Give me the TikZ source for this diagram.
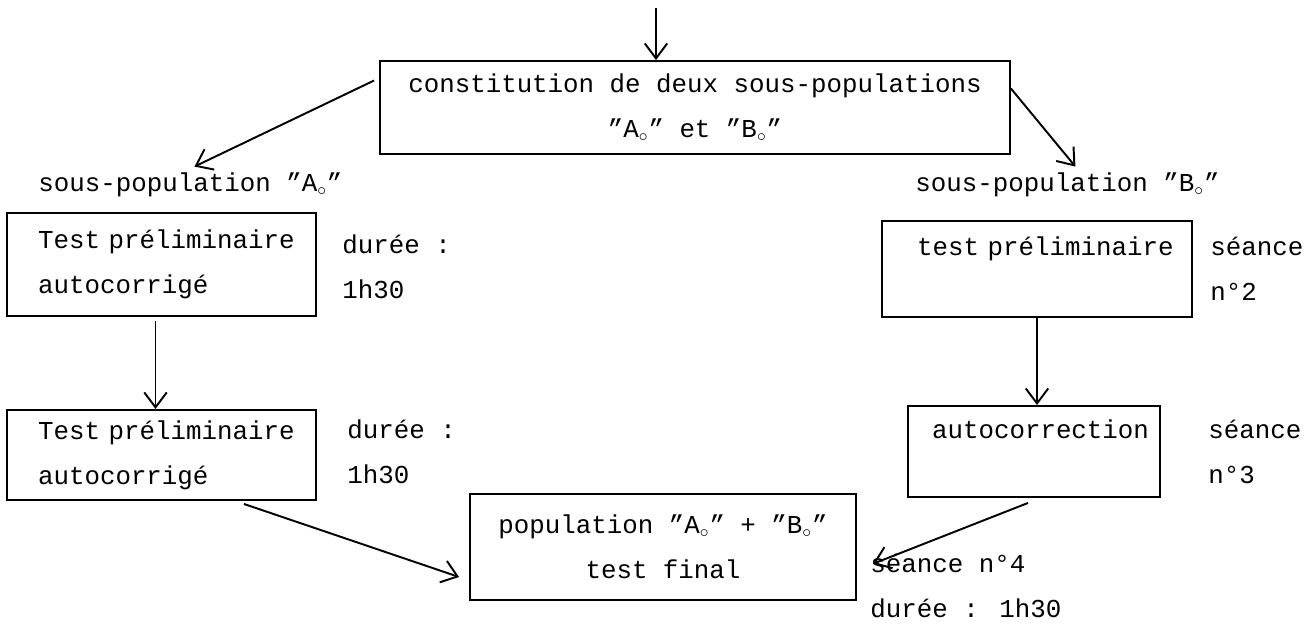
\documentclass[tikz,border=0pt]{standalone}
\usepackage{fontspec}
\setmainfont{Liberation Mono}[WordSpace={1,0,0}]
\usetikzlibrary{arrows.meta}

\newcommand{\Ao}{"A$_\circ$"}
\newcommand{\Bo}{"B$_\circ$"}

\tikzset{
	boite/.style={draw, line width=1.1pt, inner sep=0pt},
	fleche/.style={line width=1.1pt, -{Straight Barb[length=3mm,width=4.5mm]}},
	texte/.style={inner sep=0pt, align=left, anchor=west}
}

\begin{document}
\begin{tikzpicture}[x=0.02cm, y=-0.02cm, font=\fontsize{14.7}{25.6}\selectfont]
		\useasboundingbox (0,0) rectangle (1315,624);

		\coordinate (entree) at (656,8);
		\node[boite, align=center, minimum width=12.6cm, minimum height=1.86cm] (constit) at (695,107.5)
			{constitution de deux sous-populations\\\Ao{} et \Bo};

		\node[texte] (sousA) at (38,185) {sous-population \Ao};
		\node[texte] (sousB) at (915,185) {sous-population \Bo};

		\node[boite, text width=4.94cm, align=left, minimum width=6.18cm, minimum height=2.06cm] (testA) at (161.5,264.5)
			{\mbox{Test préliminaire}\\autocorrigé};
		\node[texte] (dureeA) at (342,267) {durée :\\1h30};

		\node[boite, text width=4.94cm, align=left, minimum width=6.18cm, minimum height=1.8cm] (corrA) at (161.5,455)
			{\mbox{Test préliminaire}\\autocorrigé};
		\node[texte] (dureeB) at (347,452) {durée :\\1h30};

		\node[boite, text width=4.8cm, align=left, minimum width=6.2cm, minimum height=1.92cm] (testB) at (1037,269)
			{\mbox{test préliminaire}\\~};
		\node[texte] (seance2) at (1210,269) {séance\\n°2};

		\node[boite, text width=4.08cm, align=left, minimum width=5.04cm, minimum height=1.82cm] (corrB) at (1034,451.5)
			{\mbox{autocorrection}\\~};
		\node[texte] (seance3) at (1208,451.5) {séance\\n°3};

		\node[boite, align=center, minimum width=7.72cm, minimum height=2.12cm] (final) at (663,547)
			{population \Ao{} + \Bo\\test final};
		\node[texte] (seance4) at (870,586) {séance n°4\\durée : 1h30};

		\draw[fleche] (entree) -- (entree |- constit.north);
		\draw[fleche] ([shift={(-5,-27)}]constit.west) -- ([shift={(4,-6)}]sousA.north);
		\draw[fleche] ([shift={(0,-19)}]constit.east) -- ([shift={(8,-6)}]sousB.north);
		\draw[fleche] ([shift={(-6,4)}]testA.south) -- ([shift={(-6,0)}]corrA.north);
		\draw[fleche] (testB.south) -- (testB.south |- corrB.north);
		\draw[fleche] ([shift={(-73,3)}]corrA.south east) -- ([shift={(-10,30)}]final.west);
		\draw[fleche] ([shift={(-6,5)}]corrB.south) -- ([shift={(3,10)}]seance4.north west);
	\end{tikzpicture}
\end{document}
